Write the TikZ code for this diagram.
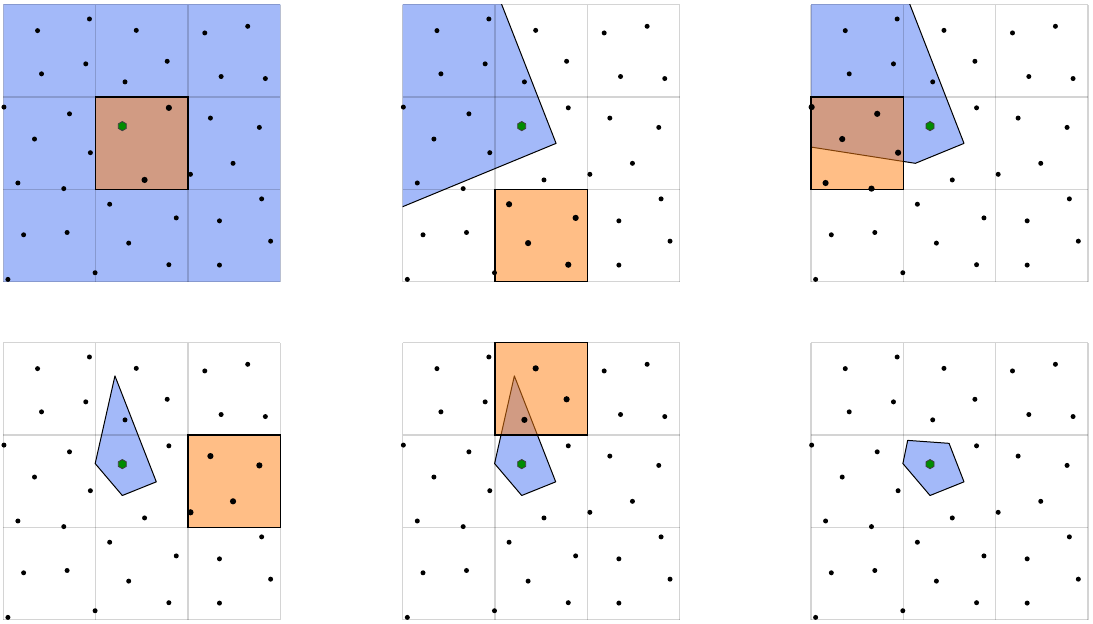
\documentclass[tikz,border=0pt]{standalone}
\usetikzlibrary{calc}
\definecolor{polyblue}{RGB}{163,185,249}
\definecolor{cellorange}{RGB}{255,127,14}
\definecolor{seedgreen}{RGB}{0,140,0}
\tikzset{
  polyfill/.style={fill=polyblue},
  polyedge/.style={draw=black, line width=0.5pt, line join=round},
  gridline/.style={draw=black, opacity=0.17, line width=0.55pt},
  orangefill/.style={fill=cellorange, fill opacity=0.5},
  orangeedge/.style={draw=black, line width=0.65pt},
  dotstyle/.style={fill=black},
  seedstyle/.style={fill=seedgreen, draw=black!75, line width=0.4pt},
}
\newcommand\ptlist{0.371/2.719, 0.933/2.845, 1.440/2.722, 1.775/2.387, 1.318/2.164, 0.893/2.359, 0.414/2.251, 2.182/2.694, 2.647/2.766, 2.359/2.222, 2.838/2.200, 0.007/1.891, 0.717/1.818, 0.338/1.545, 0.943/1.397, 0.158/1.069, 0.655/1.008, 1.793/1.883, 1.530/1.102, 2.243/1.772, 2.773/1.671, 2.488/1.282, 2.027/1.163, 1.152/0.839, 1.873/0.691, 1.358/0.418, 1.793/0.184, 0.994/0.097, 0.691/0.533, 0.220/0.508, 0.050/0.025, 2.341/0.659, 2.798/0.897, 2.895/0.439, 2.341/0.180}
% #1,#2: panel origin; #3: polygon path; #4,#5: orange cell (or -5,-5)
\newcommand\drawpanel[5]{%
\begin{scope}[shift={(#1,#2)}, x=46.17pt, y=46.17pt]
  \begin{scope}
    \clip (0,0) rectangle (3,3);
    \path[polyfill] #3 -- cycle;
    \path[polyedge] #3 -- cycle;
  \end{scope}
  \foreach \gi in {0,1,2,3} {
    \draw[gridline] (\gi,0) -- (\gi,3);
    \draw[gridline] (0,\gi) -- (3,\gi);
  }
  \ifnum#4>-1
    \path[orangefill] (#4,#5) rectangle ++(1,1);
    \path[orangeedge] (#4,#5) rectangle ++(1,1);
  \fi
  \foreach \px/\py in \ptlist {
    \pgfmathsetmacro\rr{((\px>#4) && (\px<#4+1) && (\py>#5) && (\py<#5+1)) ? 1.55 : 1.25}
    \fill[dotstyle] (\px,\py) circle[radius=\rr pt];
  }
  \coordinate (seed) at (1.289,1.685);
  \path[seedstyle] ($(seed)+(90:2.3pt)$) -- ($(seed)+(150:2.3pt)$) -- ($(seed)+(210:2.3pt)$)
     -- ($(seed)+(270:2.3pt)$) -- ($(seed)+(330:2.3pt)$) -- ($(seed)+(30:2.3pt)$) -- cycle;
\end{scope}}
\begin{document}
\begin{tikzpicture}[x=0.5pt,y=0.5pt]
\useasboundingbox[fill=white] (0,0) rectangle (1093,623);
% top row
\drawpanel{1.65pt}{170.65pt}{(-1,-1) -- (4,-1) -- (4,4) -- (-1,4)}{1}{1}
\drawpanel{201.35pt}{170.65pt}{(-0.5,0.606) -- (1.661,1.498) -- (0.877,3.5) -- (-0.5,3.5)}{1}{0}
\drawpanel{405.5pt}{170.65pt}{(-0.5,1.536) -- (1.130,1.282) -- (1.657,1.498) -- (0.877,3.5) -- (-0.5,3.5)}{0}{1}
% bottom row
\drawpanel{1.65pt}{1.65pt}{(1.209,2.640) -- (1.657,1.493) -- (1.289,1.345) -- (0.995,1.691)}{2}{1}
\drawpanel{201.35pt}{1.65pt}{(1.209,2.640) -- (1.657,1.493) -- (1.289,1.345) -- (0.995,1.691)}{1}{2}
\drawpanel{405.5pt}{1.65pt}{(1.047,1.942) -- (1.495,1.910) -- (1.657,1.493) -- (1.289,1.345) -- (0.995,1.691)}{-5}{-5}
\end{tikzpicture}
\end{document}
